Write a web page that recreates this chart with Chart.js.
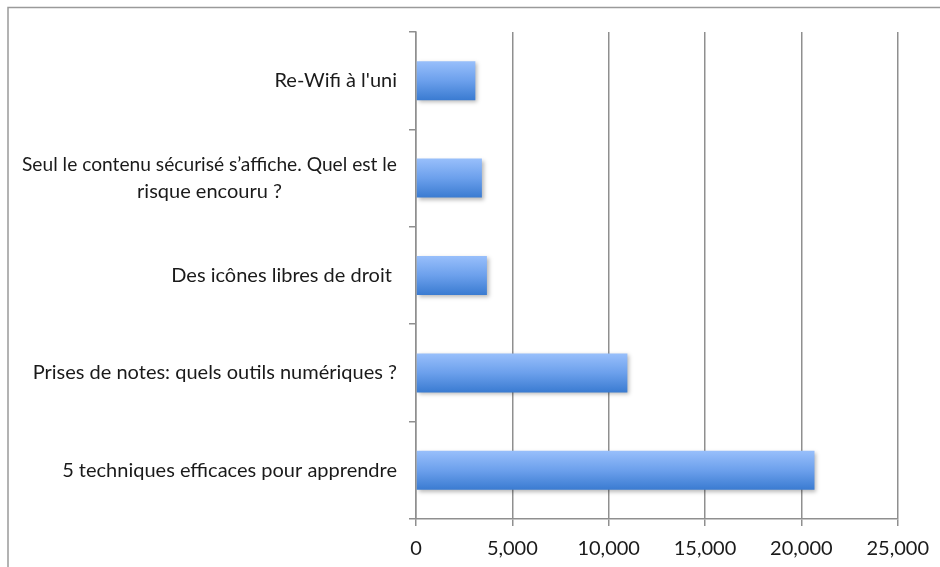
<!DOCTYPE html>
<html lang="fr">
<head>
<meta charset="utf-8">
<title>Articles les plus lus</title>
<script src="https://cdn.jsdelivr.net/npm/chart.js@4.4.1/dist/chart.umd.min.js"></script>
<style>
    html, body { margin: 0; padding: 0; background: #fff; }
    #zone { width: 940px; height: 567px; position: relative; }
</style>
</head>
<body>
<div id="zone"><canvas id="graficoArtigos"></canvas></div>
<script>
/* DADOS */
const categorias = [
    "Re-Wifi à l'uni",
    ["Seul le contenu sécurisé s’affiche. Quel est le", "risque encouru ?"],
    "Des icônes libres de droit ",
    "Prises de notes: quels outils numériques ?",
    "5 techniques efficaces pour apprendre"
];
const visites = [3080, 3420, 3680, 10970, 20680];
const ticksX = [0, 5000, 10000, 15000, 20000, 25000];

const familia = "Lato, 'Open Sans', sans-serif";
const fonte = "20px " + familia;
const cinza = "#8f8f8f";

/* CADRE + OMBRE + ROTULOS */
const extras = {
    id: "extras",
    beforeDraw(chart) {
        const ctx = chart.ctx;
        ctx.save();
        ctx.strokeStyle = "#9a9a9a";
        ctx.lineWidth = 1.5;
        ctx.strokeRect(8, 7.5, 1200, 1200);
        ctx.restore();
    },
    beforeDatasetsDraw(chart) {
        const ctx = chart.ctx;
        ctx.save();
        ctx.shadowColor = "rgba(0,0,0,0.28)";
        ctx.shadowBlur = 4;
        ctx.shadowOffsetX = 2;
        ctx.shadowOffsetY = 2;
    },
    afterDatasetsDraw(chart) {
        chart.ctx.restore();
    },
    afterDraw(chart) {
        const ctx = chart.ctx;
        const y = chart.scales.y;
        const direita = y.right - 19;
        const maxLarg = direita - 22;
        ctx.save();
        ctx.font = fonte;
        ctx.fillStyle = "#1a1a1a";
        ctx.textAlign = "center";
        ctx.textBaseline = "middle";
        categorias.forEach((rot, i) => {
            const linhas = Array.isArray(rot) ? rot : [rot];
            const larg = Math.min(maxLarg, Math.max(...linhas.map(l => ctx.measureText(l).width)));
            const cx = direita - larg / 2;
            const meio = y.getPixelForValue(i);
            const alt = 27;
            linhas.forEach((l, k) => {
                ctx.fillText(l, cx, meio - (linhas.length - 1) * alt / 2 + k * alt, maxLarg);
            });
        });
        ctx.restore();
    }
};

function degrade(c) {
    const chart = c.chart;
    const y = chart.scales.y;
    if (!y || c.dataIndex === undefined || !isFinite(y.top)) return "#6b9fe8";
    const meio = y.getPixelForValue(c.dataIndex);
    const h = (y.bottom - y.top) / categorias.length * 0.4;
    const g = chart.ctx.createLinearGradient(0, meio - h / 2, 0, meio + h / 2);
    g.addColorStop(0, "#98bffb");
    g.addColorStop(0.5, "#6ca0ec");
    g.addColorStop(1, "#3a7bd1");
    return g;
}

new Chart(document.getElementById("graficoArtigos"), {
    type: "bar",
    data: {
        labels: categorias,
        datasets: [{
            data: visites,
            backgroundColor: degrade,
            borderWidth: 0,
            barPercentage: 0.4,
            categoryPercentage: 1
        }]
    },
    plugins: [extras],
    options: {
        indexAxis: "y",
        responsive: true,
        maintainAspectRatio: false,
        animation: false,
        locale: "en-US",
        layout: { padding: { left: 0, top: 32, right: 42, bottom: 0 } },
        plugins: {
            legend: { display: false },
            tooltip: { enabled: false }
        },
        scales: {
            x: {
                min: 0,
                max: 25000,
                afterBuildTicks(scale) {
                    scale.ticks = ticksX.map(v => ({ value: v }));
                },
                afterFit(scale) { scale.height = 48; },
                grid: {
                    color: cinza,
                    lineWidth: 1.5,
                    drawTicks: true,
                    tickLength: 7
                },
                border: { display: true, color: cinza, width: 1.5 },
                ticks: {
                    padding: 11,
                    color: "#1a1a1a",
                    font: { family: familia, size: 20 },
                    callback: v => v.toLocaleString("en-US")
                }
            },
            y: {
                afterFit(scale) { scale.width = 416; },
                grid: {
                    offset: true,
                    drawOnChartArea: false,
                    drawTicks: true,
                    tickLength: 7,
                    color: cinza,
                    lineWidth: 1.5
                },
                border: { display: true, color: cinza, width: 1.5 },
                ticks: { display: false }
            }
        }
    }
});
</script>
</body>
</html>
